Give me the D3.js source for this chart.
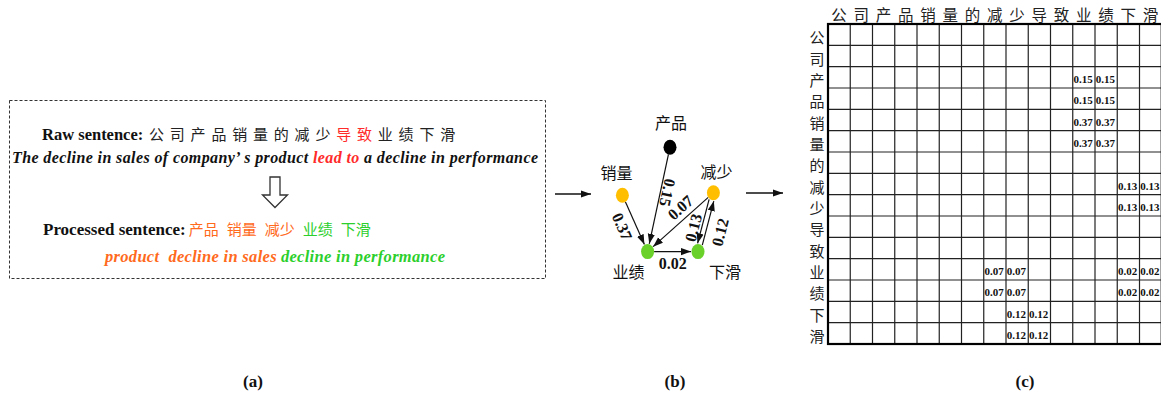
<!DOCTYPE html>
<html><head><meta charset="utf-8">
<script src="https://cdn.jsdelivr.net/npm/d3@7"></script>
<style>
html,body{margin:0;padding:0;background:#fff;}
svg{display:block;}
</style></head><body>
<svg id="fig" width="1161" height="399"></svg>
<script>
// ---------------- data ----------------
const tokens = ["公","司","产","品","销","量","的","减","少","导","致","业","绩","下","滑"];
const connectiveTokens = [9, 10];               // 导致
const rawEnglish = ["The decline in sales of company\u2019 s product ", "lead to", " a decline in performance"];
const rawEnglishRoles = ["plain", "connective", "plain"];
const processedWords = ["产品","销量","减少","业绩","下滑"];
const processedRoles = ["cause","cause","cause","effect","effect"];
const processedEnglish = ["product", "decline in sales", "decline in performance"];
const processedEnglishRoles = ["cause","cause","effect"];

const graphNodes = ["产品","销量","减少","业绩","下滑"];
const graphNodeRoles = ["subject","cause","cause","effect","effect"];
const graphEdges = [
  {source:"产品", target:"业绩", weight:0.15},
  {source:"销量", target:"业绩", weight:0.37},
  {source:"减少", target:"业绩", weight:0.07},
  {source:"减少", target:"下滑", weight:0.13},
  {source:"下滑", target:"减少", weight:0.12},
  {source:"业绩", target:"下滑", weight:0.02}
];

// adjacency matrix entries: [row token index, column token index, weight]
const matrixCells = [
  [2,11,0.15],[2,12,0.15],[3,11,0.15],[3,12,0.15],
  [4,11,0.37],[4,12,0.37],[5,11,0.37],[5,12,0.37],
  [7,13,0.13],[7,14,0.13],[8,13,0.13],[8,14,0.13],
  [11,7,0.07],[11,8,0.07],[12,7,0.07],[12,8,0.07],
  [11,13,0.02],[11,14,0.02],[12,13,0.02],[12,14,0.02],
  [13,8,0.12],[13,9,0.12],[14,8,0.12],[14,9,0.12]
];
const panelTags = ["(a)","(b)","(c)"];

// ---------------- styles ----------------
const SERIF = "'Liberation Serif','Times New Roman',serif";
const CJK = "'Noto Sans CJK SC','Noto Sans CJK JP',sans-serif";
const roleColor = {plain:"#111", connective:"#ff2a2a", cause:"#ff6a1c", effect:"#2ccf2c"};
const nodeColor = {subject:"#000", cause:"#ffbf00", effect:"#6ad12b"};

const svg = d3.select("#fig");
svg.append("rect").attr("width",1161).attr("height",399).attr("fill","#fff");

const defs = svg.append("defs");
defs.append("marker").attr("id","arrow")
  .attr("markerUnits","userSpaceOnUse")
  .attr("viewBox","0 -4 10 8").attr("refX",10).attr("refY",0)
  .attr("markerWidth",10).attr("markerHeight",8).attr("orient","auto")
  .append("path").attr("d","M0,-3.6L10,0L0,3.6Z").attr("fill","#111");

// ---------------- panel (a): sentences ----------------
const pa = svg.append("g");
pa.append("rect").attr("x",9.5).attr("y",100.5).attr("width",536).attr("height",178)
  .attr("fill","none").attr("stroke","#333").attr("stroke-width",1).attr("stroke-dasharray","3,2");

pa.append("text").attr("x",42).attr("y",140)
  .attr("font-family",SERIF).attr("font-weight","bold").attr("font-size",16.5).attr("fill","#111")
  .text("Raw sentence:");

const charScale = d3.scaleBand().domain(d3.range(tokens.length)).range([149, 149 + tokens.length*20.8]);
pa.selectAll("text.raw-char").data(tokens).join("text").attr("class","raw-char")
  .attr("x",(d,i)=>charScale(i) + 7.5).attr("y",140)
  .attr("text-anchor","middle")
  .attr("font-family",CJK).attr("font-size",15)
  .attr("fill",(d,i)=>connectiveTokens.includes(i) ? roleColor.connective : "#222")
  .text(d=>d);

const eng = pa.append("text").attr("x",12).attr("y",163)
  .attr("font-family",SERIF).attr("font-weight","bold").attr("font-style","italic").attr("font-size",16)
  .attr("textLength",526).attr("lengthAdjust","spacing").style("white-space","pre");
eng.selectAll("tspan").data(rawEnglish).join("tspan")
  .attr("fill",(d,i)=>roleColor[rawEnglishRoles[i]]).text(d=>d);

// hollow down arrow
const ax = 275;
pa.append("path")
  .attr("d",`M${ax-5},177 L${ax+5},177 L${ax+5},195 L${ax+12.5},195 L${ax},207.5 L${ax-12.5},195 L${ax-5},195 Z`)
  .attr("fill","#fff").attr("stroke","#333").attr("stroke-width",1.3).attr("stroke-linejoin","miter");

const proc = pa.append("text").attr("x",43).attr("y",235)
  .attr("font-family",SERIF).attr("font-weight","bold").attr("font-size",17);
proc.append("tspan").attr("fill","#111").text("Processed sentence:");
proc.selectAll("tspan.w").data(processedWords).join("tspan").attr("class","w")
  .attr("dx",(d,i)=> i===0 ? 3 : 8)
  .attr("font-family",CJK).attr("font-weight","normal").attr("font-size",15)
  .attr("fill",(d,i)=>roleColor[processedRoles[i]]).text(d=>d);

const procEn = pa.append("text").attr("x",105).attr("y",262)
  .attr("font-family",SERIF).attr("font-weight","bold").attr("font-style","italic").attr("font-size",16.5)
  .attr("textLength",340).attr("lengthAdjust","spacing");
procEn.selectAll("tspan").data(processedEnglish).join("tspan")
  .attr("dx",(d,i)=> i===0 ? 0 : (i===1 ? 9 : 4))
  .attr("fill",(d,i)=>roleColor[processedEnglishRoles[i]]).text(d=>d);

// connector arrows between panels
[[555,591,194],[746,783,193]].forEach(([x1,x2,y])=>{
  svg.append("line").attr("x1",x1).attr("x2",x2).attr("y1",y).attr("y2",y)
    .attr("stroke","#111").attr("stroke-width",1.3).attr("marker-end","url(#arrow)");
});

// ---------------- panel (b): causal graph ----------------
const gxs = d3.scaleLinear().domain([0,100]).range([600,740]);
const gys = d3.scaleLinear().domain([0,100]).range([140,260]);
const nodeLayout = {
  "产品": {at:[50,6],  label:[1,-25]},
  "销量": {at:[16,46], label:[-6,-23]},
  "减少": {at:[81,44], label:[3,-22]},
  "业绩": {at:[34,93], label:[-19,19]},
  "下滑": {at:[70,93], label:[27,19]}
};
const edgeLabelLayout = [
  {t:0.42, d:-7,  flip:false},
  {t:0.46, d:13,  flip:false},
  {t:0.39, d:11,  flip:true},
  {t:0.64, d:10.5,flip:true},
  {t:0.40, d:16.5,flip:false},
  {t:0.50, d:12,  flip:false}
];
const RX = 6.5, RY = 7.5;
const pos = n => [gxs(nodeLayout[n].at[0]), gys(nodeLayout[n].at[1])];
const rim = (ux,uy) => 1/Math.sqrt((ux/RX)**2 + (uy/RY)**2);

const pb = svg.append("g");
graphEdges.forEach((e,i)=>{
  const [sx,sy] = pos(e.source), [tx,ty] = pos(e.target);
  const dx = tx-sx, dy = ty-sy, len = Math.hypot(dx,dy);
  const ux = dx/len, uy = dy/len, nx = -uy, ny = ux;
  const twoWay = graphEdges.some(o=>o.source===e.target && o.target===e.source);
  const off = twoWay ? 2.5 : 0;
  const r = rim(ux,uy);
  pb.append("line")
    .attr("x1",sx+ux*r+nx*off).attr("y1",sy+uy*r+ny*off)
    .attr("x2",tx-ux*(r+0.5)+nx*off).attr("y2",ty-uy*(r+0.5)+ny*off)
    .attr("stroke","#111").attr("stroke-width",1.2).attr("marker-end","url(#arrow)");
  const L = edgeLabelLayout[i];
  const lx = sx + ux*len*L.t + nx*L.d, ly = sy + uy*len*L.t + ny*L.d;
  let ang = Math.atan2(dy,dx)*180/Math.PI;
  if (L.flip) ang += 180;
  pb.append("text").attr("transform",`translate(${lx},${ly}) rotate(${ang})`)
    .attr("text-anchor","middle").attr("dominant-baseline","central")
    .attr("font-family",SERIF).attr("font-weight","bold").attr("font-size",16).attr("fill","#111")
    .text(d3.format(".2f")(e.weight));
});
pb.selectAll("ellipse").data(graphNodes).join("ellipse")
  .attr("cx",d=>pos(d)[0]).attr("cy",d=>pos(d)[1]).attr("rx",RX).attr("ry",RY)
  .attr("fill",(d,i)=>nodeColor[graphNodeRoles[i]]);
pb.selectAll("text.node").data(graphNodes).join("text").attr("class","node")
  .attr("x",d=>pos(d)[0]+nodeLayout[d].label[0]).attr("y",d=>pos(d)[1]+nodeLayout[d].label[1])
  .attr("text-anchor","middle").attr("dominant-baseline","central")
  .attr("font-family",CJK).attr("font-size",16).attr("fill","#111")
  .text(d=>d);

// ---------------- panel (c): adjacency matrix ----------------
const idx = d3.range(tokens.length);
const mx = d3.scaleBand().domain(idx).range([828, 828 + tokens.length*22.25]);
const my = d3.scaleBand().domain(idx).range([24, 344]);
const pc = svg.append("g");

pc.selectAll("line.v").data(idx.slice(1)).join("line").attr("class","v")
  .attr("x1",d=>mx(d)).attr("x2",d=>mx(d)).attr("y1",my.range()[0]).attr("y2",my.range()[1])
  .attr("stroke","#222").attr("stroke-width",1.2);
pc.selectAll("line.h").data(idx.slice(1)).join("line").attr("class","h")
  .attr("y1",d=>my(d)).attr("y2",d=>my(d)).attr("x1",mx.range()[0]).attr("x2",mx.range()[1])
  .attr("stroke","#222").attr("stroke-width",1.2);
pc.append("rect")
  .attr("x",mx.range()[0]).attr("y",my.range()[0])
  .attr("width",mx.range()[1]-mx.range()[0]).attr("height",my.range()[1]-my.range()[0])
  .attr("fill","none").attr("stroke","#000").attr("stroke-width",2.2);

pc.selectAll("text.col").data(tokens).join("text").attr("class","col")
  .attr("x",(d,i)=>mx(i)+mx.bandwidth()/2).attr("y",14)
  .attr("text-anchor","middle").attr("dominant-baseline","central")
  .attr("font-family",CJK).attr("font-size",15.5).attr("fill","#222").text(d=>d);
pc.selectAll("text.row").data(tokens).join("text").attr("class","row")
  .attr("x",817).attr("y",(d,i)=>my(i)+my.bandwidth()/2+2)
  .attr("text-anchor","middle").attr("dominant-baseline","central")
  .attr("font-family",CJK).attr("font-size",15).attr("fill","#222").text(d=>d);

pc.selectAll("text.val").data(matrixCells).join("text").attr("class","val")
  .attr("x",d=>mx(d[1])+0.8).attr("y",d=>my(d[0])+my.bandwidth()/2+1.5)
  .attr("dominant-baseline","central")
  .attr("font-family",SERIF).attr("font-weight","bold").attr("font-size",11).attr("fill","#111")
  .text(d=>d3.format(".2f")(d[2]));

// ---------------- panel tags ----------------
const tagX = [253, 675, 1025];
svg.selectAll("text.tag").data(panelTags).join("text").attr("class","tag")
  .attr("x",(d,i)=>tagX[i]).attr("y",381)
  .attr("text-anchor","middle").attr("dominant-baseline","central")
  .attr("font-family",SERIF).attr("font-weight","bold").attr("font-size",17).attr("fill","#111")
  .text(d=>d);
</script>
</body></html>
